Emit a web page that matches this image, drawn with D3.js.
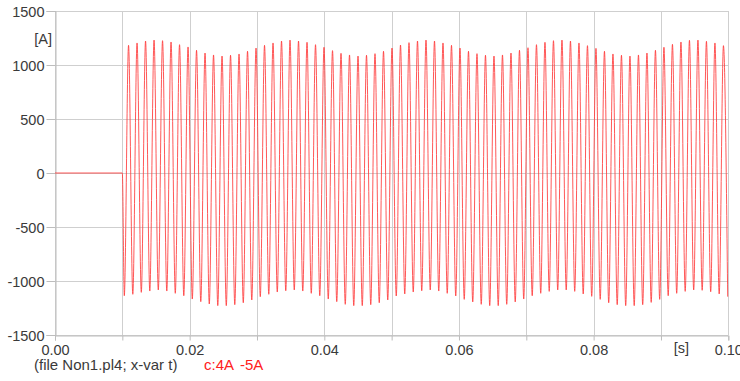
<!DOCTYPE html>
<html>
<head>
<meta charset="utf-8">
<script src="https://cdn.jsdelivr.net/npm/d3@7"></script>
<style>
  html, body { margin: 0; padding: 0; background: #fff; }
  svg { display: block; }
  text { font-family: "Liberation Sans", Arial, sans-serif; }
</style>
</head>
<body>
<svg id="chart" width="740" height="381"></svg>
<script>
// ---- data ----
const xTicks = [0, 0.01, 0.02, 0.03, 0.04, 0.05, 0.06, 0.07, 0.08, 0.09, 0.10];
const xLabelTicks = [0, 0.02, 0.04, 0.06, 0.08, 0.10];
const xLabels = ["0.00", "0.02", "0.04", "0.06", "0.08", "0.10"];
const yTicks = [-1500, -1000, -500, 0, 500, 1000, 1500];
const yLabels = ["-1500", "-1000", "-500", "0", "500", "1000", "1500"];

// time base of the oscillation (s)
const switchOnTime = 0.0100;     // current is zero before this
const firstTroughTime = 0.010293; // first negative peak
const cyclePeriod = 0.0012622;    // spacing between successive peaks of same sign
const endTime = 0.10;

// successive positive peaks [A]
const posPeaks = [1182,1204,1222,1231,1225,1213,1188,1167,1136,1111,1093,1083,1090,1102,1127,1157,
  1182,1204,1222,1231,1222,1210,1188,1164,1133,1108,1093,1083,1090,1105,1127,1157,1185,1207,1222,
  1231,1222,1204,1182,1157,1127,1105,1090,1083,1093,1111,1136,1160,1188,1210,1225,1231,1222,1204,
  1179,1154,1127,1102,1090,1083,1093,1111,1136,1164,1191,1213,1228,1231,1219,1204,1179];
// successive negative peaks [A]
const negPeaks = [-1136,-1123,-1105,-1093,-1083,-1093,-1114,-1136,-1167,-1191,-1213,-1228,-1228,-1219,
  -1201,-1176,-1145,-1123,-1102,-1090,-1083,-1093,-1114,-1136,-1167,-1191,-1216,-1228,-1228,-1219,
  -1201,-1176,-1139,-1120,-1102,-1090,
  -1083,-1093,-1114,-1139,-1170,-1194,-1216,-1228,-1228,-1216,-1194,-1167,-1136,-1114,-1096,-1083,
  -1083,-1096,-1120,-1142,-1170,-1201,-1219,-1228,-1228,-1219,-1198,-1170,-1136,-1114,-1096,-1083,
  -1086,-1099,-1120,-1145];

// ---- build series ----
const series = [[0, 0], [switchOnTime, 0]];
for (let i = 0; i < negPeaks.length; i++) {
  series.push([firstTroughTime + i * cyclePeriod, negPeaks[i]]);
  if (i < posPeaks.length) series.push([firstTroughTime + (i + 0.5) * cyclePeriod, posPeaks[i]]);
}

// ---- layout ----
const svg = d3.select("#chart");
const L = 55, R = 728.3, T = 11, B = 335;
const x = d3.scaleLinear().domain([0, endTime]).range([L, R]);
const y = d3.scaleLinear().domain([-1500, 1500]).range([B, T]);

const gridColor = "#cfcfcf";
const textColor = "#3a3a3a";

// grid
svg.append("g").selectAll("line.h").data(yTicks).join("line")
  .attr("x1", L).attr("x2", R)
  .attr("y1", d => Math.round(y(d)) + 0.5).attr("y2", d => Math.round(y(d)) + 0.5)
  .attr("stroke", gridColor).attr("stroke-width", 1);
svg.append("g").selectAll("line.v").data(xTicks).join("line")
  .attr("x1", d => Math.round(x(d)) + 0.5).attr("x2", d => Math.round(x(d)) + 0.5)
  .attr("y1", T).attr("y2", B)
  .attr("stroke", gridColor).attr("stroke-width", 1);

// axes (d3 axes with ticks outward)
const yAxis = d3.axisLeft(y).tickValues(yTicks).tickFormat((d, i) => yLabels[i]).tickSizeOuter(0).tickSize(9).tickPadding(2);
const gy = svg.append("g").attr("transform", `translate(${L + 0.5},0)`).call(yAxis);
gy.select(".domain").attr("stroke", "#bdbdbd");
gy.selectAll(".tick line").attr("stroke", "#bdbdbd");
gy.selectAll(".tick text").attr("fill", textColor).style("font-size", "14.5px").attr("dy", "0.35em");

const xAxis = d3.axisBottom(x).tickValues(xTicks)
  .tickFormat(d => { const k = xLabelTicks.findIndex(v => Math.abs(v - d) < 1e-9); return k >= 0 ? xLabels[k] : ""; })
  .tickSizeOuter(0).tickSize(5).tickPadding(4);
const gx = svg.append("g").attr("transform", `translate(0,${B + 0.5})`).call(xAxis);
gx.select(".domain").attr("stroke", "#bdbdbd");
gx.selectAll(".tick line").attr("stroke", "#bdbdbd");
gx.selectAll(".tick text").attr("fill", textColor).style("font-size", "14.5px");

// unit labels
svg.append("text").attr("x", 52).attr("y", 44).attr("text-anchor", "end")
  .attr("fill", textColor).style("font-size", "14.5px").text("[A]");
svg.append("text").attr("x", 681.5).attr("y", 353).attr("text-anchor", "middle")
  .attr("fill", textColor).style("font-size", "14.5px").text("[s]");

// curve
const line = d3.line().x(d => x(d[0])).y(d => y(d[1])).curve(d3.curveMonotoneX);
svg.append("path").datum(series)
  .attr("d", line).attr("fill", "none")
  .attr("stroke", "#ff3b3b").attr("stroke-width", 1).attr("stroke-opacity", 0.85);

// footer
svg.append("text").attr("x", 34).attr("y", 370).attr("fill", textColor)
  .style("font-size", "15px").text("(file Non1.pl4; x-var t)");
svg.append("text").attr("x", 204).attr("y", 370).attr("fill", "#ff2020")
  .style("font-size", "15px").text("c:4A");
svg.append("text").attr("x", 240).attr("y", 370).attr("fill", "#ff2020")
  .style("font-size", "15px").text("-5A");
</script>
</body>
</html>
